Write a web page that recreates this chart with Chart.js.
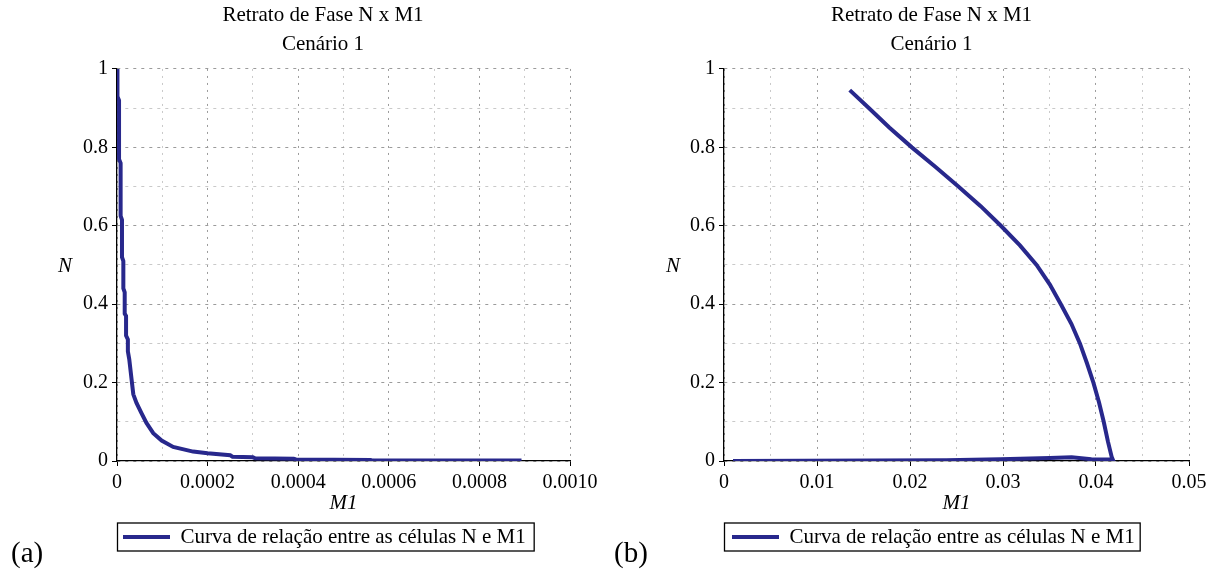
<!DOCTYPE html>
<html>
<head>
<meta charset="utf-8">
<script src="https://cdn.jsdelivr.net/npm/chart.js@4"></script>
<style>
  body { margin: 0; background: #fff; width: 1217px; height: 570px; position: relative; overflow: hidden; }
  canvas { position: absolute; top: 0; }
  .tag { position: absolute; font-family: "Liberation Serif", serif; font-size: 29px; color: #000; }
</style>
</head>
<body>
<canvas id="chartA" width="608" height="570" style="left:0"></canvas>
<canvas id="chartB" width="609" height="570" style="left:608px"></canvas>
<div class="tag" style="left:11px; top:536px">(a)</div>
<div class="tag" style="left:614px; top:536px">(b)</div>
<script>
// Scenario (a): M1 and N values
const m1A = [0, 0.000001, 0.000001, 0.0000045, 0.0000045, 0.000008, 0.000008, 0.000011, 0.000011,
  0.000014, 0.000014, 0.000017, 0.000017, 0.00002, 0.00002, 0.000024, 0.000024, 0.000027, 0.000032,
  0.000036, 0.000043, 0.000054, 0.000065, 0.00008, 0.0000985, 0.000124, 0.000168, 0.0002, 0.00025,
  0.000255, 0.0003, 0.000305, 0.00039, 0.000395, 0.00056, 0.000565, 0.000893];
const nA = [1.0, 0.99, 0.93, 0.92, 0.77, 0.76, 0.625, 0.615, 0.52,
  0.51, 0.44, 0.43, 0.376, 0.37, 0.32, 0.31, 0.28, 0.26, 0.21,
  0.17, 0.148, 0.122, 0.097, 0.071, 0.052, 0.036, 0.024, 0.0195, 0.0145,
  0.011, 0.0094, 0.007, 0.006, 0.004, 0.0025, 0.001, 0.001];

// Scenario (b)
const m1B = [0.01352, 0.0156, 0.0178, 0.0202, 0.02275, 0.0252, 0.0276, 0.02977, 0.03182,
  0.03361, 0.03504, 0.03622, 0.03735, 0.03827, 0.03902, 0.03972, 0.04032, 0.04083, 0.04128,
  0.04168, 0.0418, 0.0395, 0.03738, 0.03504, 0.0297, 0.0239, 0.00097];
const nB = [0.946, 0.9, 0.85, 0.8, 0.75, 0.7, 0.65, 0.6, 0.55,
  0.5, 0.45, 0.4, 0.35, 0.3, 0.25, 0.2, 0.15, 0.1, 0.05,
  0.011, 0.004, 0.0045, 0.0094, 0.0077, 0.0043, 0.002, 0.0];

const xTicksA = ['0', '0.0002', '0.0004', '0.0006', '0.0008', '0.0010'];
const xTicksB = ['0', '0.01', '0.02', '0.03', '0.04', '0.05'];
const yTicks = ['0', '0.2', '0.4', '0.6', '0.8', '1'];

const titleLines = ['Retrato de Fase N x M1', 'Cenário 1'];
const legendLabel = 'Curva de relação entre as células N e M1';
const lineColor = '#28288c';
const serif = '"Liberation Serif", "Times New Roman", serif';

Chart.defaults.font.family = serif;
Chart.defaults.color = '#000';

// draws the upright "N" axis label and the box around the legend
const extrasPlugin = {
  id: 'extras',
  afterDraw(chart, args, opts) {
    const ctx = chart.ctx;
    const area = chart.chartArea;
    ctx.save();
    ctx.fillStyle = '#000';
    ctx.font = 'italic 21px ' + serif;
    ctx.textAlign = 'center';
    ctx.textBaseline = 'middle';
    ctx.fillText('N', area.left - opts.nOffset, (area.top + area.bottom) / 2 + 2);

    const lg = chart.legend;
    const hb = lg.legendHitBoxes[0];
    if (hb) {
      ctx.strokeStyle = '#000';
      ctx.lineWidth = 1.3;
      const top = hb.top - 3.5;
      const right = hb.left + hb.width + opts.boxExtra;
      ctx.strokeRect(lg.left + 0.5, top, right - lg.left, hb.height + 7);
    }
    ctx.restore();
  }
};

function gridColor(ctx) {
  return ctx.index % 2 ? 'rgba(195, 195, 195, 0.9)' : 'rgba(150, 150, 150, 0.95)';
}

function makeChart(canvasId, xs, ys, xMax, xStep, xLabels, cfg) {
  const points = xs.map((x, i) => ({ x: x, y: ys[i] }));
  const ctx = document.getElementById(canvasId).getContext('2d');

  return new Chart(ctx, {
    type: 'scatter',
    data: {
      datasets: [{
        label: legendLabel,
        data: points,
        showLine: true,
        borderColor: lineColor,
        backgroundColor: lineColor,
        borderWidth: 4,
        pointRadius: 0,
        tension: 0
      }]
    },
    options: {
      responsive: false,
      animation: false,
      layout: {
        padding: { left: cfg.padLeft, right: cfg.padRight, top: 0, bottom: 12.5 }
      },
      plugins: {
        title: {
          display: true,
          text: titleLines,
          color: '#000',
          font: { size: 21, weight: 'normal', lineHeight: 1.38 },
          padding: { top: 1, bottom: 10 }
        },
        legend: {
          position: 'bottom',
          align: 'start',
          fullSize: false,
          labels: {
            usePointStyle: true,
            pointStyle: 'line',
            pointStyleWidth: 47,
            padding: cfg.legendPad,
            color: '#000',
            font: { size: 21 }
          }
        },
        tooltip: { enabled: false },
        extras: { nOffset: cfg.nOffset, boxExtra: cfg.boxExtra }
      },
      scales: {
        x: {
          type: 'linear',
          min: 0,
          max: xMax,
          afterFit: scale => { scale.height = cfg.xHeight; },
          ticks: {
            stepSize: xStep,
            autoSkip: false,
            maxRotation: 0,
            padding: 4.5,
            font: { size: 20 },
            callback: (v, i) => (i % 2 ? '' : xLabels[i / 2])
          },
          grid: {
            color: gridColor,
            tickLength: 5,
            tickBorderDash: [],
            tickColor: c => (c.index % 2 ? 'rgba(0,0,0,0)' : '#000')
          },
          border: { display: true, color: '#000', width: 1.3, dash: [2, 5] },
          title: {
            display: true,
            text: 'M1',
            color: '#000',
            font: { size: 21, style: 'italic' },
            padding: { top: 0, bottom: cfg.titlePad }
          }
        },
        y: {
          type: 'linear',
          min: 0,
          max: 1,
          afterFit: scale => { scale.width = cfg.yWidth; },
          ticks: {
            stepSize: 0.1,
            autoSkip: false,
            padding: 4,
            font: { size: 20 },
            callback: (v, i) => (i % 2 ? '' : yTicks[i / 2])
          },
          grid: {
            color: gridColor,
            tickLength: 5,
            tickBorderDash: [],
            tickColor: c => (c.index % 2 ? 'rgba(0,0,0,0)' : '#000')
          },
          border: { display: true, color: '#000', width: 1.3, dash: [3, 5] }
        }
      }
    },
    plugins: [extrasPlugin]
  });
}

makeChart('chartA', m1A, nA, 0.001, 0.0001, xTicksA, {
  padLeft: 76, padRight: 38, yWidth: 41, xHeight: 59.5, legendPad: 6,
  titlePad: 4.5, nOffset: 52, boxExtra: 8
});

makeChart('chartB', m1B, nB, 0.05, 0.005, xTicksB, {
  padLeft: 66, padRight: 28, yWidth: 50, xHeight: 57.5, legendPad: 8,
  titlePad: 2.5, nOffset: 51, boxExtra: 5
});
</script>
</body>
</html>
